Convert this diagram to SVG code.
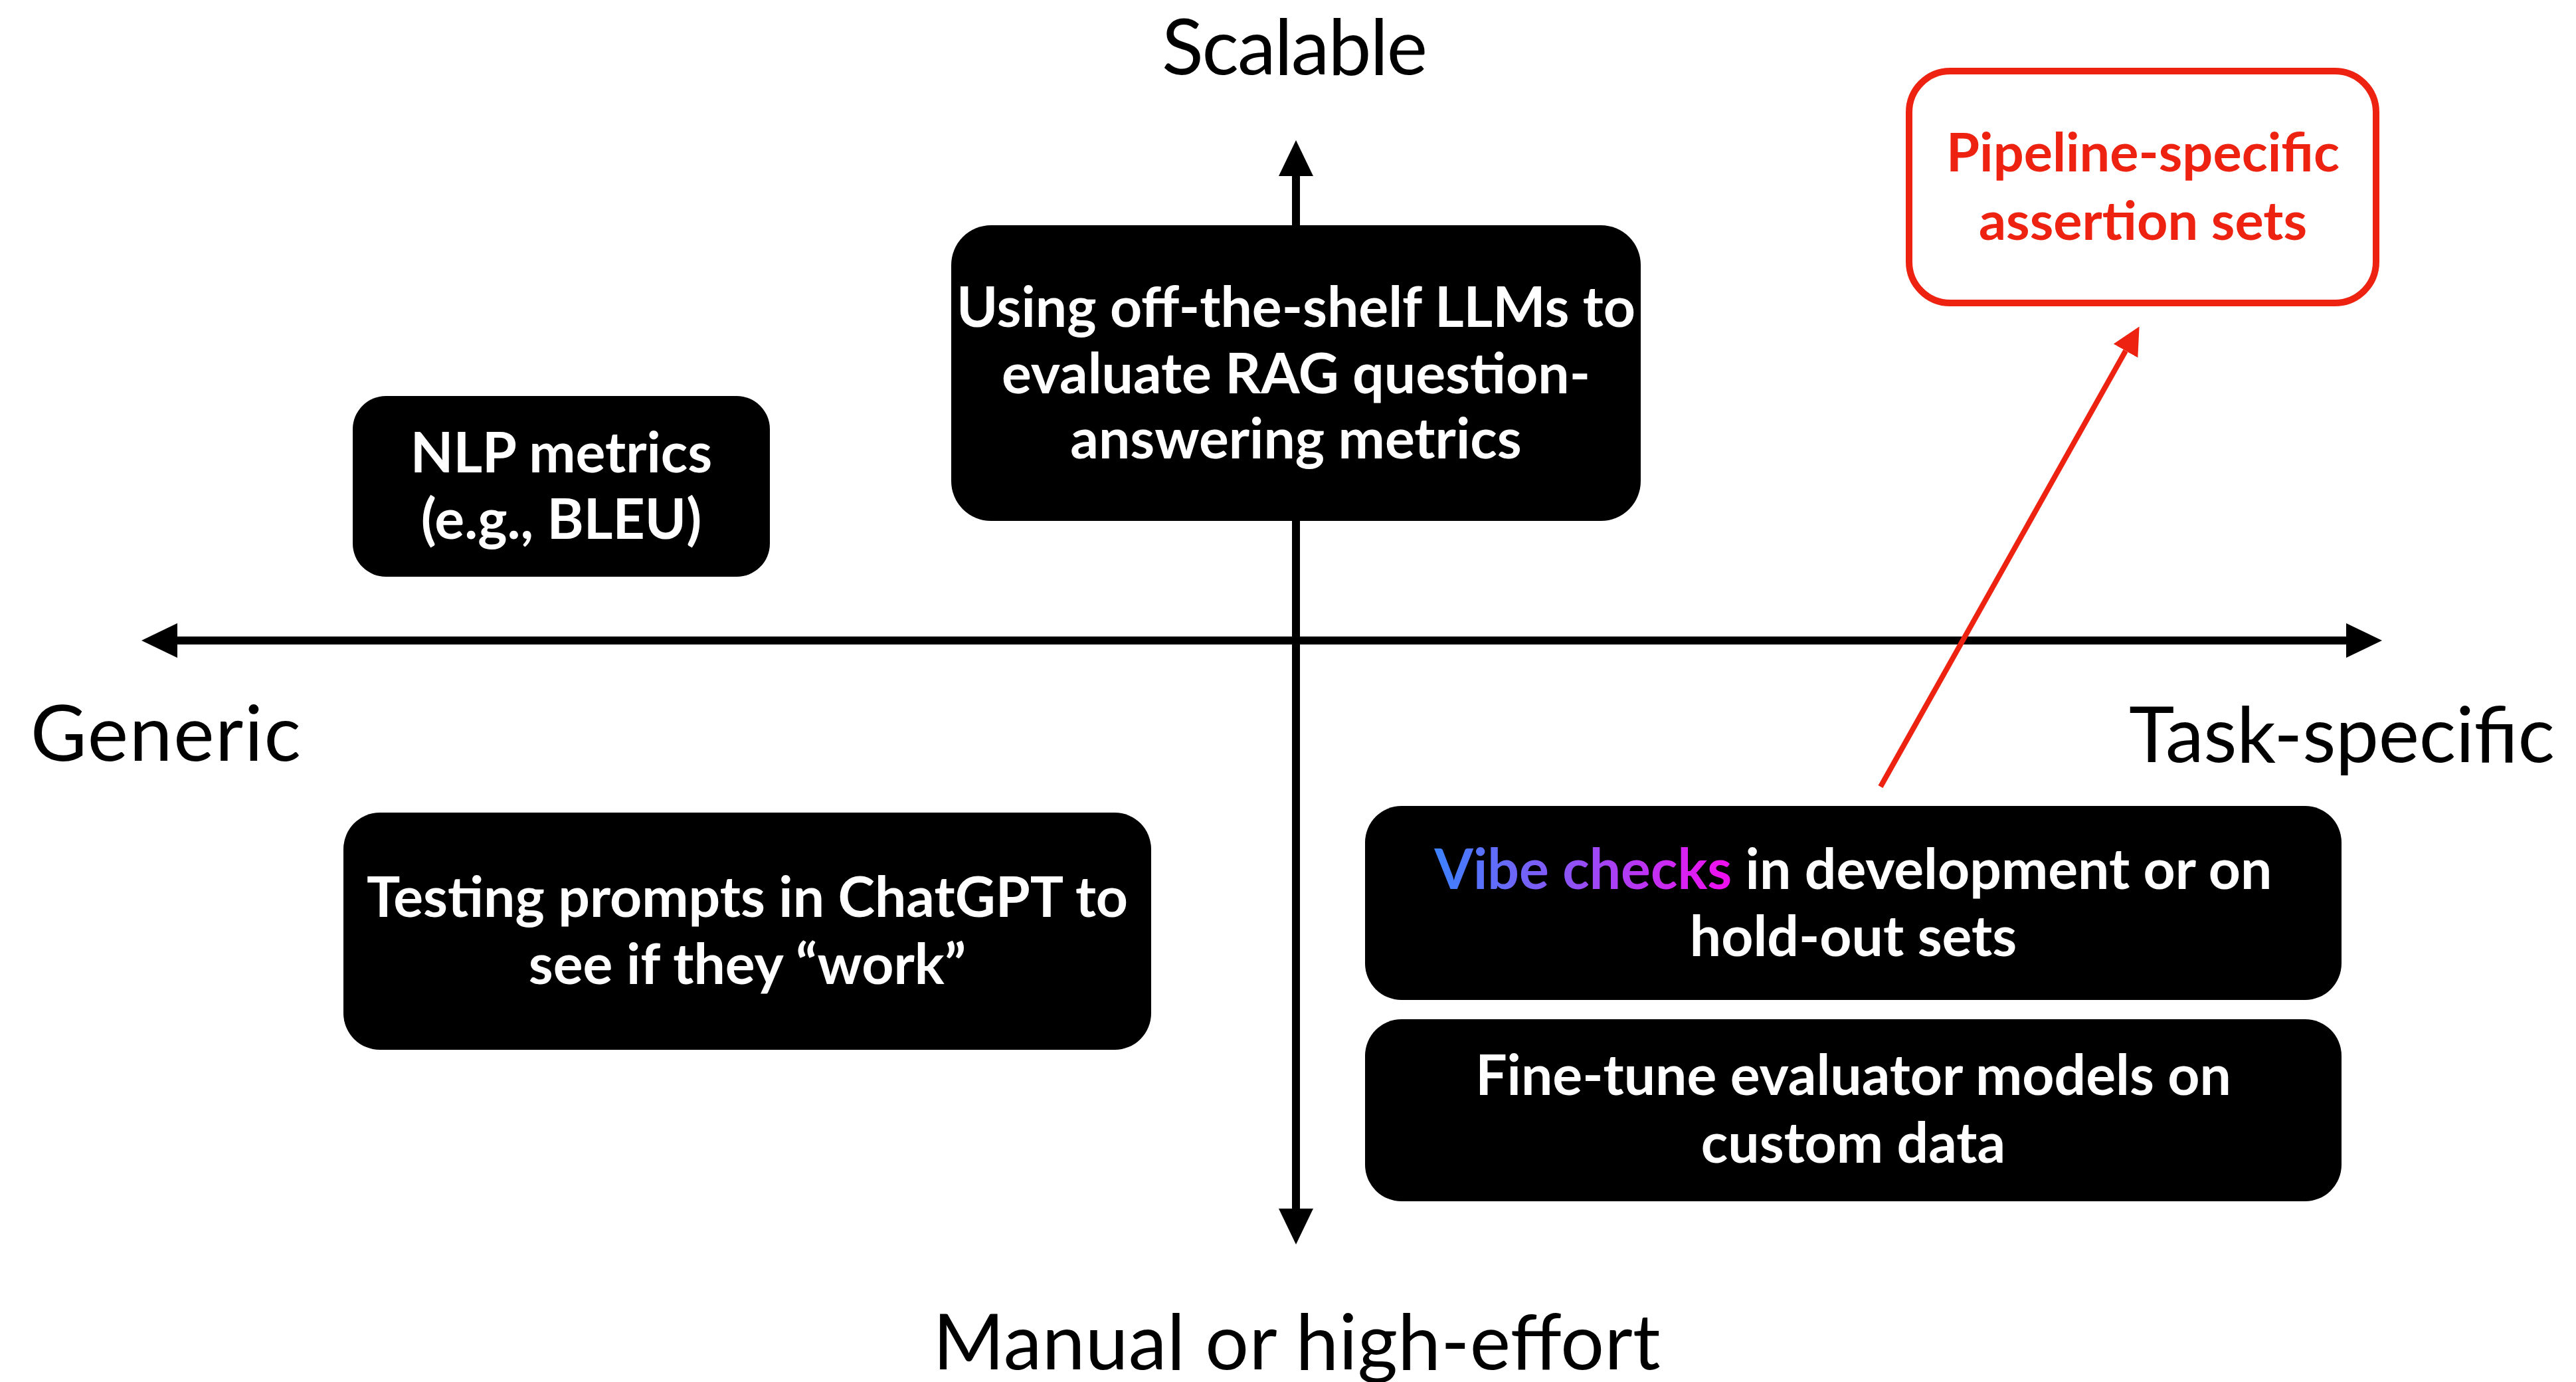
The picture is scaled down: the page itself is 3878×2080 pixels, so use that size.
<svg xmlns="http://www.w3.org/2000/svg" width="3878" height="2080" viewBox="0 0 3878 2080">
  <style>
    .axis-label { font-family: Lato, "Liberation Sans", sans-serif; font-size: 116px; fill: #000; }
    .box { fill: #000; }
    .box-text { font-family: Lato, "Liberation Sans", sans-serif; font-weight: bold; font-size: 84px; fill: #fff; text-anchor: middle; }
    .red-text { font-family: Lato, "Liberation Sans", sans-serif; font-weight: bold; font-size: 81px; fill: #ee2211; text-anchor: middle; }
    .axis { stroke: #000; stroke-width: 12; fill: none; }
    .red-arrow { stroke: #ee2211; stroke-width: 8; fill: none; }
  </style>
  <defs>
    <marker id="head-black" markerUnits="userSpaceOnUse" markerWidth="54" markerHeight="52" refX="0" refY="26" orient="auto-start-reverse" viewBox="0 0 54 52">
      <path d="M0,0 L54,26 L0,52 z" fill="#000"/>
    </marker>
    <marker id="head-red" markerUnits="userSpaceOnUse" markerWidth="42" markerHeight="42" refX="0" refY="21" orient="auto" viewBox="0 0 42 42">
      <path d="M0,0 L42,21 L0,42 z" fill="#ee2211"/>
    </marker>
    <linearGradient id="vibe" gradientUnits="userSpaceOnUse" x1="2157" y1="0" x2="2595" y2="0">
      <stop offset="0" stop-color="#3b82ff"/>
      <stop offset="0.45" stop-color="#8a55f5"/>
      <stop offset="1" stop-color="#ee11f0"/>
    </linearGradient>
  </defs>

  <rect width="3878" height="2080" fill="#fff"/>

  <!-- axes and arrows -->
  <g id="connectors">
    <line class="axis" x1="267" y1="964" x2="3532" y2="964" marker-start="url(#head-black)" marker-end="url(#head-black)"/>
    <line class="axis" x1="1951" y1="1819" x2="1951" y2="265" marker-start="url(#head-black)" marker-end="url(#head-black)"/>
    <line class="red-arrow" x1="2831" y1="1184" x2="3200" y2="528" marker-end="url(#head-red)"/>
  </g>

  <!-- axis labels -->
  <g id="labels">
    <text class="axis-label" x="1949" y="112" text-anchor="middle" textLength="400" lengthAdjust="spacing">Scalable</text>
    <text class="axis-label" x="46" y="1145" textLength="407" lengthAdjust="spacing">Generic</text>
    <text class="axis-label" x="3846" y="1147" text-anchor="end" textLength="641" lengthAdjust="spacing">Task-specific</text>
    <text class="axis-label" x="1952" y="2061" text-anchor="middle" textLength="1095" lengthAdjust="spacing">Manual or high-effort</text>
  </g>

  <g id="llm-judges">
    <rect class="box" x="1432" y="339" width="1038" height="445" rx="60"/>
    <text class="box-text" x="1951" y="492">Using off-the-shelf LLMs to</text>
    <text class="box-text" x="1951" y="592">evaluate RAG question-</text>
    <text class="box-text" x="1951" y="690">answering metrics</text>
  </g>

  <g id="nlp-metrics">
    <rect class="box" x="531" y="596" width="628" height="272" rx="50"/>
    <text class="box-text" x="845" y="711">NLP metrics</text>
    <text class="box-text" x="845" y="811">(e.g., BLEU)</text>
  </g>

  <g id="chatgpt-testing">
    <rect class="box" x="517" y="1223" width="1216" height="357" rx="55"/>
    <text class="box-text" x="1125" y="1380">Testing prompts in ChatGPT to</text>
    <text class="box-text" x="1125" y="1481">see if they “work”</text>
  </g>

  <g id="vibe-checks">
    <rect class="box" x="2055" y="1213" width="1470" height="292" rx="55"/>
    <text class="box-text" x="2790" y="1338"><tspan fill="url(#vibe)">Vibe checks</tspan> in development or on</text>
    <text class="box-text" x="2790" y="1439">hold-out sets</text>
  </g>

  <g id="fine-tune">
    <rect class="box" x="2055" y="1534" width="1470" height="274" rx="55"/>
    <text class="box-text" x="2790" y="1648">Fine-tune evaluator models on</text>
    <text class="box-text" x="2790" y="1750">custom data</text>
  </g>

  <g id="assertion-sets">
    <rect x="2874" y="107" width="703" height="349" rx="62" fill="#fff" stroke="#ee2211" stroke-width="10"/>
    <text class="red-text" x="3226" y="258">Pipeline-specific</text>
    <text class="red-text" x="3226" y="361">assertion sets</text>
  </g>
</svg>
